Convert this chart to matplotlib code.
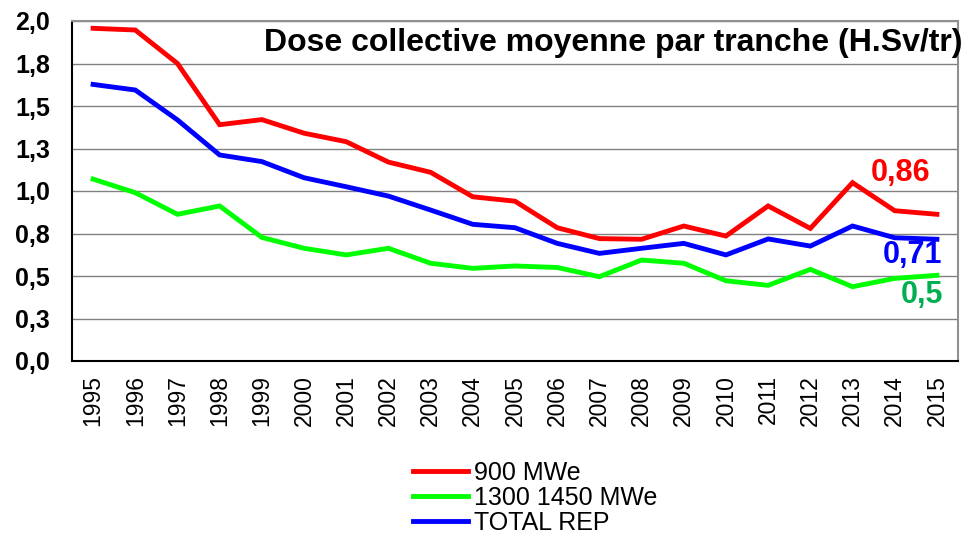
import matplotlib.pyplot as plt
import numpy as np

plt.rcParams['font.family'] = ['Liberation Sans', 'DejaVu Sans']

# Data
years = [str(y) for y in range(1995, 2016)]
mwe_900 = [1.957, 1.947, 1.75, 1.39, 1.42, 1.34, 1.29, 1.17, 1.11, 0.966,
           0.94, 0.784, 0.72, 0.716, 0.794, 0.735, 0.912, 0.78, 1.049, 0.884, 0.863]
mwe_1300 = [1.07, 0.99, 0.863, 0.912, 0.727, 0.663, 0.624, 0.663, 0.575, 0.545,
            0.559, 0.55, 0.496, 0.594, 0.575, 0.472, 0.445, 0.539, 0.437, 0.486, 0.504]
total_rep = [1.627, 1.594, 1.418, 1.212, 1.173, 1.078, 1.025, 0.97, 0.888, 0.804,
             0.784, 0.692, 0.633, 0.663, 0.692, 0.624, 0.718, 0.676, 0.794, 0.725, 0.716]
ytick_vals = [0, 0.25, 0.5, 0.75, 1.0, 1.25, 1.5, 1.75, 2.0]
ytick_labels = ['0,0', '0,3', '0,5', '0,8', '1,0', '1,3', '1,5', '1,8', '2,0']

fig = plt.figure(figsize=(9.7, 5.37), dpi=100)
ax = fig.add_axes([72 / 970, 1 - 361 / 537, 886 / 970, 340 / 537])

x = np.arange(len(years))
ax.plot(x, mwe_900, color='#FF0000', lw=3.5, label='900 MWe', solid_joinstyle='miter')
ax.plot(x, mwe_1300, color='#00FF00', lw=3.5, label='1300 1450 MWe', solid_joinstyle='miter')
ax.plot(x, total_rep, color='#0000FF', lw=3.5, label='TOTAL REP', solid_joinstyle='miter')

ax.set_xlim(-0.5, len(years) - 0.5)
ax.set_ylim(0, 2.0)
ax.set_yticks(ytick_vals)
ax.set_yticklabels(ytick_labels, fontsize=18, fontweight='bold')
ax.set_xticks(x)
ax.set_xticklabels(years, rotation=90, fontsize=16.5)
ax.tick_params(axis='y', length=0, pad=16)
ax.tick_params(axis='x', length=0, pad=10)
ax.grid(axis='y', color='#808080', lw=1)
ax.set_axisbelow(True)

for side in ['left', 'bottom']:
    ax.spines[side].set_color('black')
    ax.spines[side].set_linewidth(1.5)
for side in ['top', 'right']:
    ax.spines[side].set_color('#909090')
    ax.spines[side].set_linewidth(1.5)

ax.text(1.005, 0.935, 'Dose collective moyenne par tranche (H.Sv/tr)',
        transform=ax.transAxes, ha='right', va='center',
        fontsize=23, fontweight='bold', clip_on=False)

ax.text(19.14, 1.106, '0,86', color='#FF0000', fontsize=22, fontweight='bold',
        ha='center', va='center')
ax.text(19.43, 0.624, '0,71', color='#0000FF', fontsize=22, fontweight='bold',
        ha='center', va='center')
ax.text(19.64, 0.388, '0,5', color='#00B050', fontsize=22, fontweight='bold',
        ha='center', va='center')

fig.legend(loc='upper left', bbox_to_anchor=(413 / 970, 1 - 461 / 537),
           frameon=False, fontsize=18, handlelength=2.2, handletextpad=0.25,
           labelspacing=0.04, borderpad=0, borderaxespad=0)

fig.savefig('out.png', dpi=100)
